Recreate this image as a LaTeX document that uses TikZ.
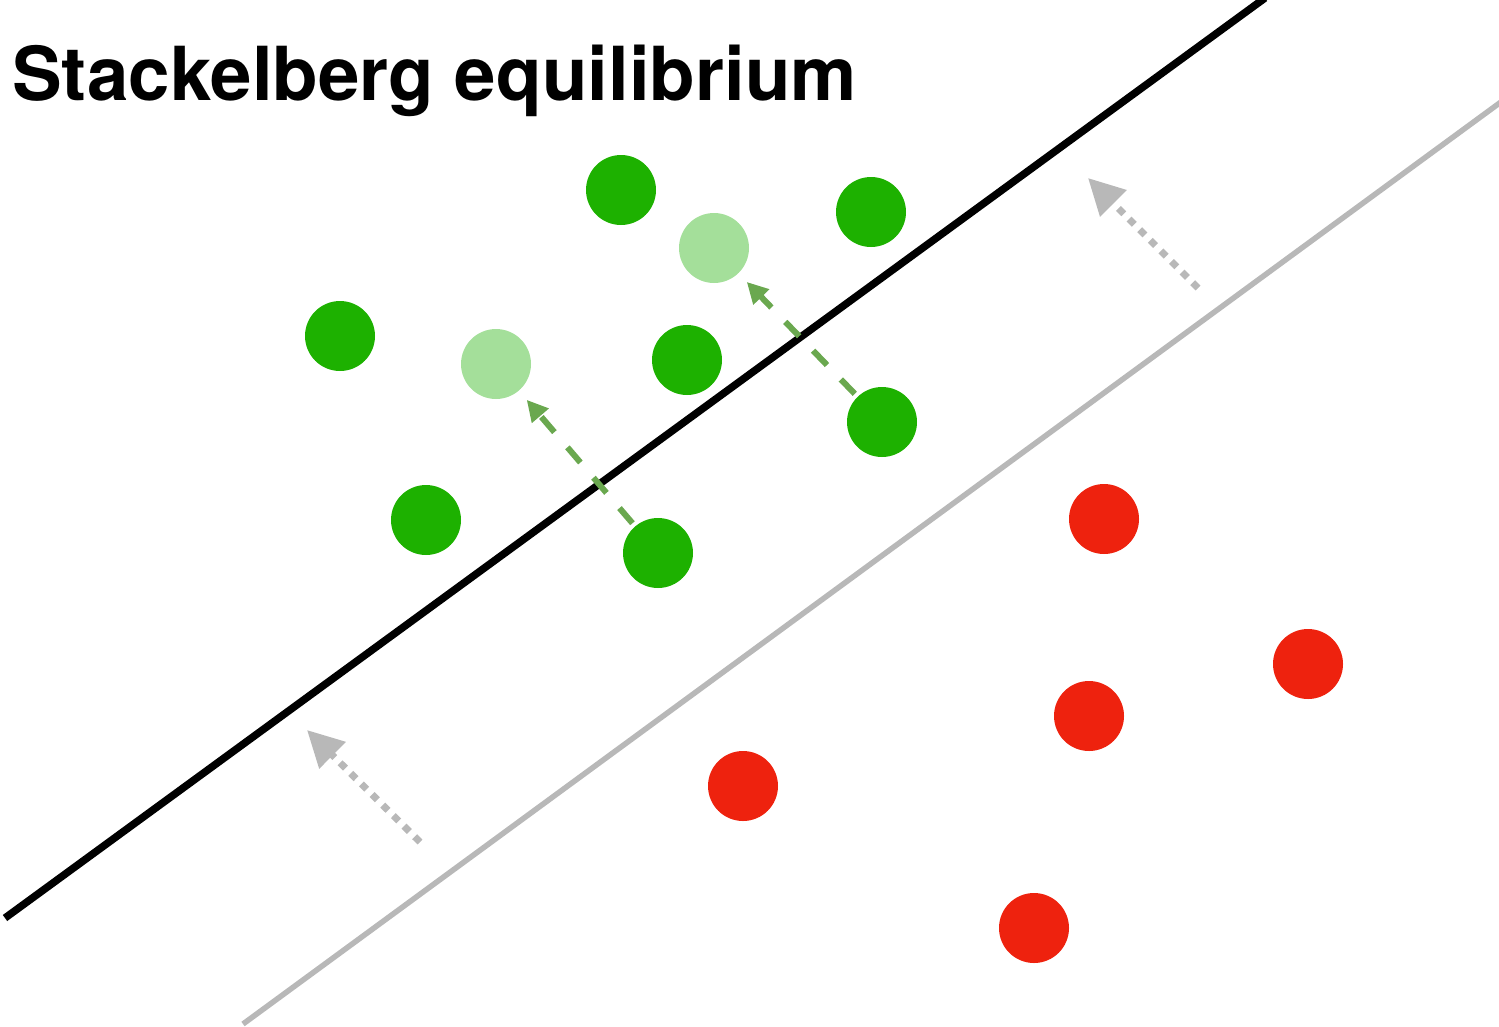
\documentclass[tikz,border=0pt]{standalone}
\usepackage{fontspec}
\newfontfamily\headfont{TeX Gyre Heros}
\usetikzlibrary{arrows.meta}
\definecolor{ptgreen}{RGB}{29,177,0}
\definecolor{ptlight}{RGB}{164,223,154}
\definecolor{ptred}{RGB}{238,34,14}
\definecolor{movegreen}{RGB}{106,168,79}
\definecolor{shiftgray}{RGB}{184,184,184}
\tikzset{
  pt/.style={circle, minimum size=70pt, inner sep=0pt},
  green pt/.style={pt, fill=ptgreen},
  light pt/.style={pt, fill=ptlight},
  red pt/.style={pt, fill=ptred},
  move arrow/.style={draw=movegreen, line width=6pt, dash pattern=on 20pt off 20pt,
    -{Triangle[length=21pt,width=21pt,fill=movegreen]}},
  boundary move/.style={draw=shiftgray, line width=7pt, dash pattern=on 7.5pt off 7.5pt,
    -{Triangle[length=36pt,width=36pt,fill=shiftgray]}},
}
\begin{document}
\begin{tikzpicture}[x=1pt,y=-1pt]
\useasboundingbox (0,0) rectangle (1499,1026);
\begin{scope}
\clip (0,0) rectangle (1499,1026);
% decision boundaries
\draw[line width=5.5pt, shiftgray] (243,1024) -- (1505,99);
\draw[line width=7.5pt, black] (5,918) -- (1265,-2);
\end{scope}
% title
\node[anchor=base west, inner sep=0pt, font=\headfont\bfseries\fontsize{74.5}{80}\selectfont] (title) at (12,100) {Stackelberg equilibrium};
% positive class
\node[green pt] (g1) at (621,190) {};
\node[green pt] (g2) at (871,212) {};
\node[green pt] (g3) at (340,336) {};
\node[green pt] (g4) at (687,360) {};
\node[green pt] (g5) at (882,422) {};
\node[green pt] (g6) at (426,520) {};
\node[green pt] (g7) at (658,553) {};
% moved positions
\node[light pt] (l1) at (714,248) {};
\node[light pt] (l2) at (496,364) {};
% negative class
\node[red pt] (r1) at (1104,519) {};
\node[red pt] (r2) at (1308,664) {};
\node[red pt] (r3) at (1089,716) {};
\node[red pt] (r4) at (743,786) {};
\node[red pt] (r5) at (1034,928) {};
% moves of the points
\draw[move arrow, shorten <=4pt, shorten >=12pt] (g7) -- (l2);
\draw[move arrow, shorten <=4pt, shorten >=12pt] (g5) -- (l1);
% shift of the boundary
\coordinate (a1s) at (1198,288);
\coordinate (a1e) at (1088,178);
\coordinate (a2s) at (420,842);
\coordinate (a2e) at (307,730);
\draw[boundary move] (a1s) -- (a1e);
\draw[boundary move] (a2s) -- (a2e);
\end{tikzpicture}
\end{document}
